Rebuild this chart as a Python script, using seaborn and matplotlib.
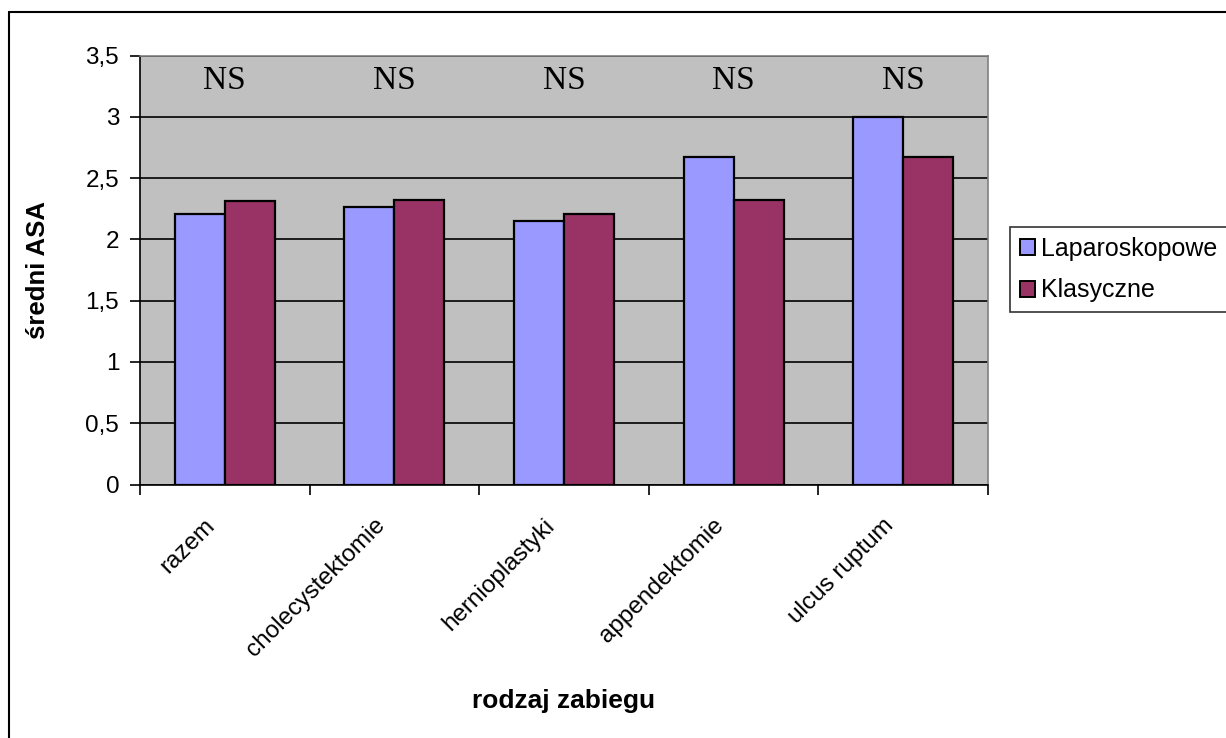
import matplotlib
matplotlib.use("Agg")
import matplotlib.pyplot as plt
import matplotlib.patches as mpatches
import matplotlib.transforms as mtransforms
from matplotlib.ticker import FixedLocator, FuncFormatter
import pandas as pd
import seaborn as sns

# Mean ASA score by procedure type and surgical approach
zabiegi = ["razem", "cholecystektomie", "hernioplastyki", "appendektomie", "ulcus ruptum"]
laparoskopowe = [2.21, 2.26, 2.15, 2.67, 3.00]
klasyczne = [2.31, 2.32, 2.21, 2.32, 2.67]
istotnosc = ["NS", "NS", "NS", "NS", "NS"]
serie = ["Laparoskopowe", "Klasyczne"]
kolory = ["#9999FF", "#993366"]

df = pd.DataFrame({
    "zabieg": zabiegi * 2,
    "ASA": laparoskopowe + klasyczne,
    "metoda": [serie[0]] * len(zabiegi) + [serie[1]] * len(zabiegi),
})

sns.set_theme(style="white")
plt.rcParams["font.family"] = ["Liberation Sans", "DejaVu Sans"]
for k in ["text.color", "axes.labelcolor", "xtick.color", "ytick.color"]:
    plt.rcParams[k] = "black"

W, H = 1226, 738
fig = plt.figure(figsize=(W / 100, H / 100), dpi=100)
ax = fig.add_axes([140 / W, 1 - 484.5 / H, 848 / W, 429 / H])

sns.barplot(data=df, x="zabieg", y="ASA", hue="metoda", order=zabiegi,
            hue_order=serie, palette=kolory, width=0.59, gap=0,
            saturation=1, edgecolor="black", linewidth=1.6, ax=ax,
            errorbar=None, legend=False, zorder=3)

ax.set_facecolor("#C0C0C0")
ax.set_xlim(-0.5, len(zabiegi) - 0.5)
ax.set_ylim(0, 3.5)
ax.yaxis.set_major_locator(FixedLocator([0, 0.5, 1, 1.5, 2, 2.5, 3, 3.5]))
ax.yaxis.set_major_formatter(FuncFormatter(lambda v, p: f"{v:g}".replace(".", ",")))
ax.grid(axis="y", color="black", linewidth=1.2, zorder=0)
ax.set_axisbelow(True)

for s in ["top", "right"]:
    ax.spines[s].set_color("#808080")
    ax.spines[s].set_linewidth(1.2)
for s in ["left", "bottom"]:
    ax.spines[s].set_color("black")
    ax.spines[s].set_linewidth(1.2)

ax.tick_params(axis="y", direction="out", length=7, width=1.2, color="black",
               labelsize=17.5, pad=8, left=True)
ax.set_xticks(range(len(zabiegi)))
ax.set_xticks([i - 0.5 for i in range(len(zabiegi) + 1)], minor=True)
ax.tick_params(axis="x", which="major", length=0, pad=27)
ax.tick_params(axis="x", which="minor", direction="out", length=7, width=1.2,
               color="black", bottom=True)
ax.set_xticklabels(zabiegi, rotation=45, ha="right", va="center",
                   rotation_mode="anchor", fontsize=17.5)
przesuniecie = mtransforms.ScaledTranslation(-13 / 100, 0, fig.dpi_scale_trans)
for lab in ax.get_xticklabels():
    lab.set_transform(lab.get_transform() + przesuniecie)

for i, t in enumerate(istotnosc):
    ax.text(i, 3.29, t, ha="center", va="center", fontsize=24,
            family=["Liberation Serif", "DejaVu Serif"], zorder=4)

ax.set_xlabel("rodzaj zabiegu", fontsize=19, fontweight="bold")
ax.set_ylabel("średni ASA", fontsize=18.5, fontweight="bold")
ax.xaxis.set_label_coords(0.5, (484.5 - 689) / 429, transform=ax.transAxes)
ax.yaxis.set_label_coords((50 - 140) / 848, 0.5, transform=ax.transAxes)

uchwyty = [mpatches.Patch(facecolor=c, edgecolor="black", linewidth=1.4, label=s)
           for c, s in zip(kolory, serie)]
leg = fig.legend(handles=uchwyty, loc="upper left",
                 bbox_to_anchor=(1010 / W, 1 - 227 / H), fontsize=18,
                 frameon=True, fancybox=False, handlelength=0.6,
                 handleheight=0.6, handletextpad=0.25, borderpad=0.4,
                 labelspacing=0.7, borderaxespad=0)
leg.get_frame().set_edgecolor("black")
leg.get_frame().set_linewidth(1.2)

# Outer chart frame (left and top edges)
fig.add_artist(plt.Line2D([9 / W, 9 / W], [0, 1 - 12 / H], color="black",
                          linewidth=1.5, transform=fig.transFigure))
fig.add_artist(plt.Line2D([9 / W, 1], [1 - 12 / H, 1 - 12 / H], color="black",
                          linewidth=1.5, transform=fig.transFigure))

fig.savefig("out.png", dpi=100, facecolor="white")
